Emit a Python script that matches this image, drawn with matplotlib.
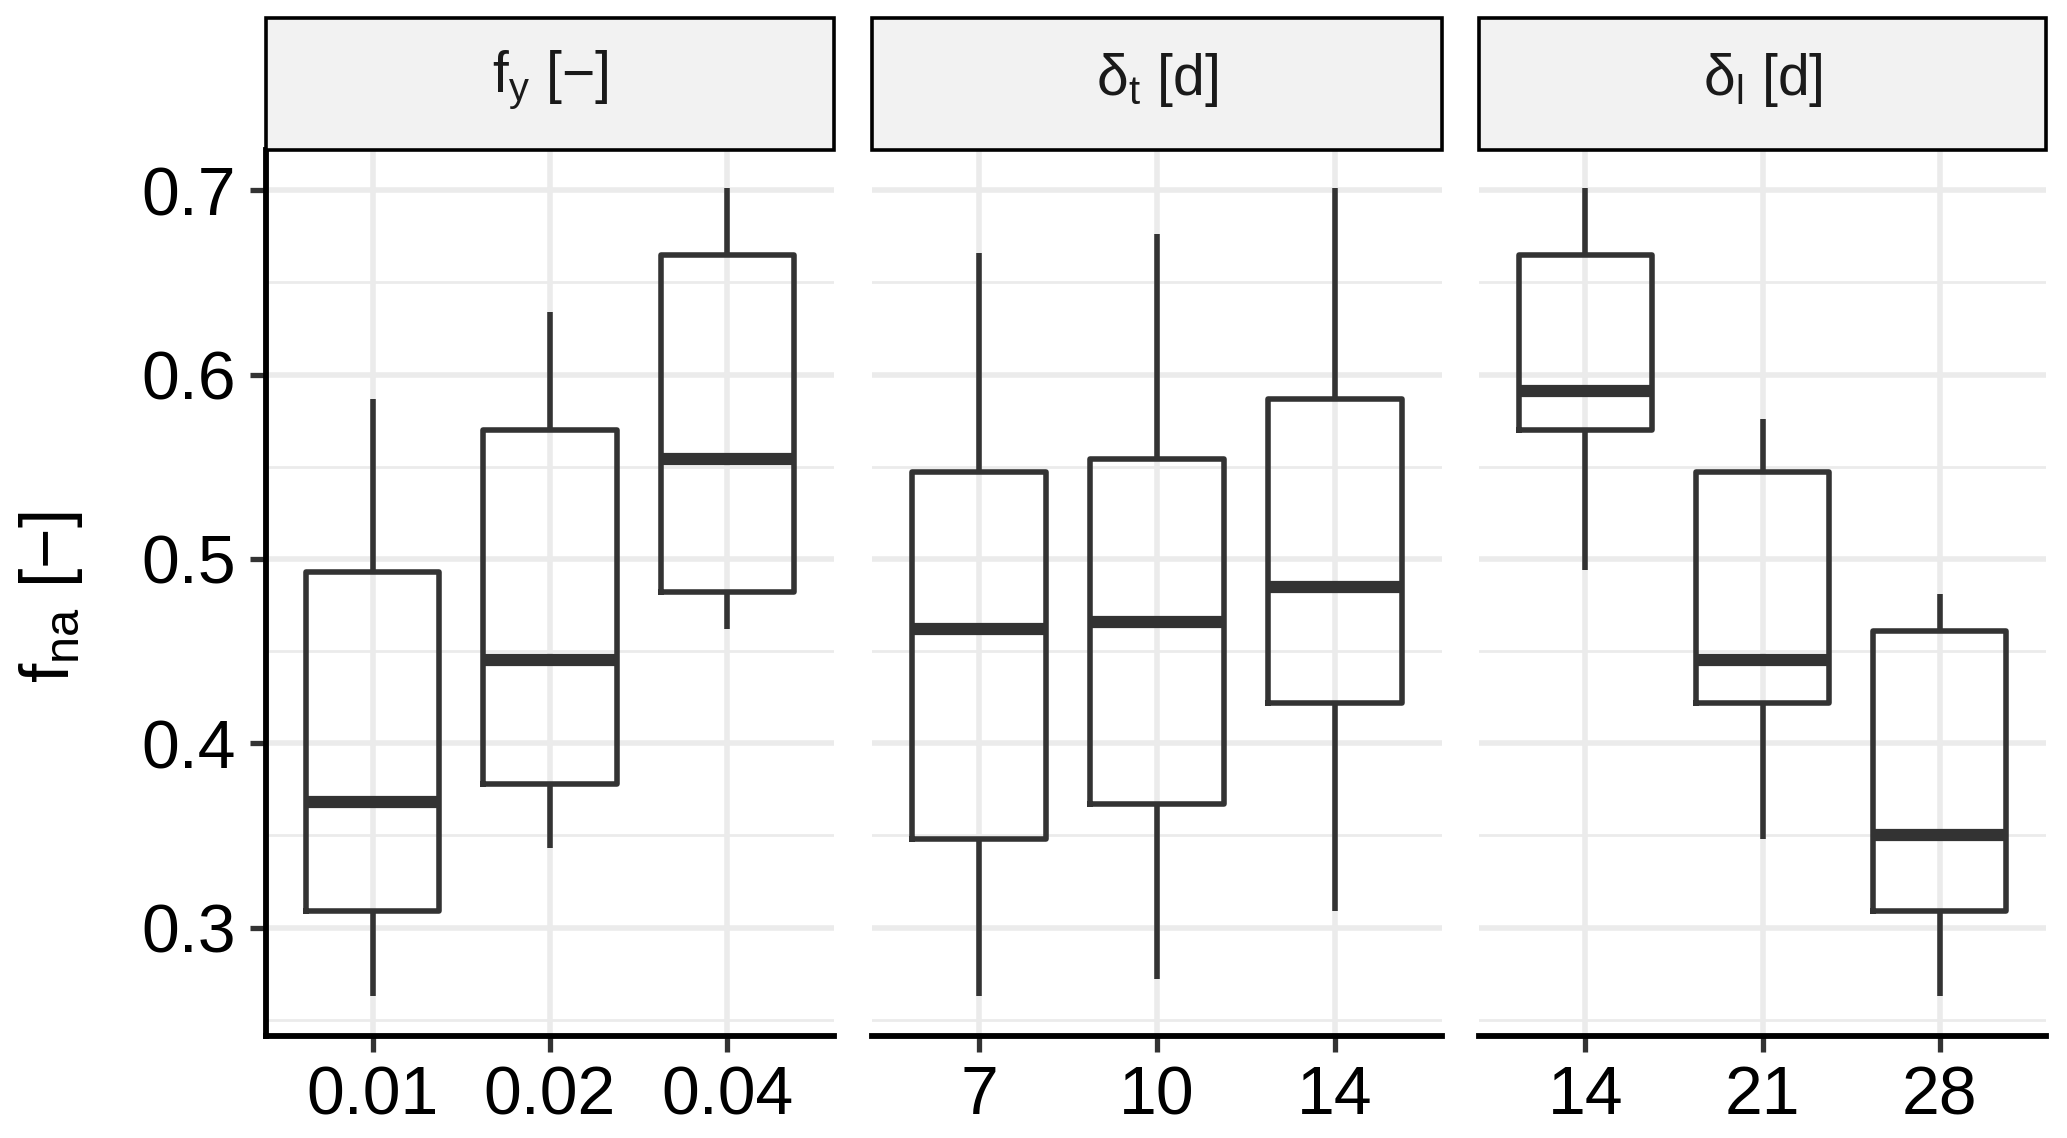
import matplotlib
matplotlib.use("Agg")

import matplotlib.pyplot as plt
from matplotlib.patches import Rectangle

plt.rcParams["font.family"] = ["Liberation Sans", "DejaVu Sans"]
plt.rcParams["mathtext.fontset"] = "custom"
plt.rcParams["mathtext.rm"] = "Liberation Sans"
plt.rcParams["mathtext.it"] = "Liberation Sans"

# facet labels and categories
facets = [r"$\mathregular{f_y}$ [−]", r"$\mathregular{\delta_t}$ [d]", r"$\mathregular{\delta_l}$ [d]"]
cats = [["0.01", "0.02", "0.04"], ["7", "10", "14"], ["14", "21", "28"]]

# box stats (per facet, per category)
lo = [[0.263, 0.343, 0.462], [0.263, 0.272, 0.309], [0.494, 0.348, 0.263]]
q1 = [[0.309, 0.378, 0.482], [0.348, 0.367, 0.422], [0.570, 0.422, 0.309]]
md = [[0.368, 0.445, 0.554], [0.462, 0.466, 0.485], [0.591, 0.445, 0.350]]
q3 = [[0.493, 0.570, 0.665], [0.547, 0.554, 0.587], [0.665, 0.547, 0.461]]
hi = [[0.587, 0.634, 0.701], [0.666, 0.676, 0.701], [0.701, 0.576, 0.481]]

W, H = 2067, 1138
fig = plt.figure(figsize=(W / 100, H / 100), dpi=100)

px = [(266, 834), (872, 1442), (1479, 2046)]
ytop, ybot, stop = 150, 1036, 18

lc = "#333333"
gc = "#EBEBEB"

for i in range(3):
    x0, x1 = px[i]
    ax = fig.add_axes([x0 / W, 1 - ybot / H, (x1 - x0) / W, (ybot - ytop) / H])

    st = []
    for k in range(3):
        st.append({
            "whislo": lo[i][k],
            "q1": q1[i][k],
            "med": md[i][k],
            "q3": q3[i][k],
            "whishi": hi[i][k],
            "fliers": [],
        })

    ax.bxp(
        st,
        positions=[1, 2, 3],
        widths=0.75,
        showcaps=False,
        showfliers=False,
        boxprops=dict(color=lc, linewidth=4.0),
        whiskerprops=dict(color=lc, linewidth=4.0, solid_capstyle="butt"),
        medianprops=dict(color=lc, linewidth=8.8, solid_capstyle="butt"),
        patch_artist=False,
        zorder=3,
    )

    ax.set_xlim(0.4, 3.6)
    ax.set_ylim(0.2412, 0.7218)
    ax.set_xticks([1, 2, 3])
    ax.set_xticklabels(cats[i])
    ax.set_yticks([0.3, 0.4, 0.5, 0.6, 0.7])
    ax.set_yticks([0.25, 0.35, 0.45, 0.55, 0.65], minor=True)
    ax.grid(True, which="major", color=gc, linewidth=4.0, zorder=0)
    ax.grid(True, which="minor", axis="y", color=gc, linewidth=2.0, zorder=0)
    ax.set_axisbelow(True)

    for s in ["top", "right"]:
        ax.spines[s].set_visible(False)
    ax.spines["bottom"].set_linewidth(4.2)
    ax.spines["bottom"].set_color("black")

    ax.tick_params(axis="x", length=11.5, width=3.8, color=lc, labelsize=49, pad=9, labelcolor="black")
    ax.tick_params(axis="y", which="minor", length=0)

    if i == 0:
        ax.spines["left"].set_linewidth(4.2)
        ax.spines["left"].set_color("black")
        ax.tick_params(axis="y", which="major", length=11.5, width=3.8, color=lc, labelsize=49, pad=10, labelcolor="black")
        ax.set_yticklabels(["0.3", "0.4", "0.5", "0.6", "0.7"])
    else:
        ax.spines["left"].set_visible(False)
        ax.tick_params(axis="y", which="major", length=0, labelleft=False)

    sax = fig.add_axes([x0 / W, 1 - ytop / H, (x1 - x0) / W, (ytop - stop) / H])
    sax.set_xlim(0, 1)
    sax.set_ylim(0, 1)
    sax.axis("off")
    sax.add_patch(Rectangle((0, 0), 1, 1, facecolor="#F2F2F2", edgecolor="black", linewidth=2.6,
                            transform=sax.transAxes, clip_on=False))
    sax.text(0.5, 0.53, facets[i], ha="center", va="center", fontsize=41, color="#1A1A1A")

fig.text(51 / W, 1 - 597 / H, r"$\mathregular{f_{na}}$ [−]", rotation=90, ha="center", va="center", fontsize=50, color="black")

fig.savefig("out.png", dpi=100)
plt.close(fig)
